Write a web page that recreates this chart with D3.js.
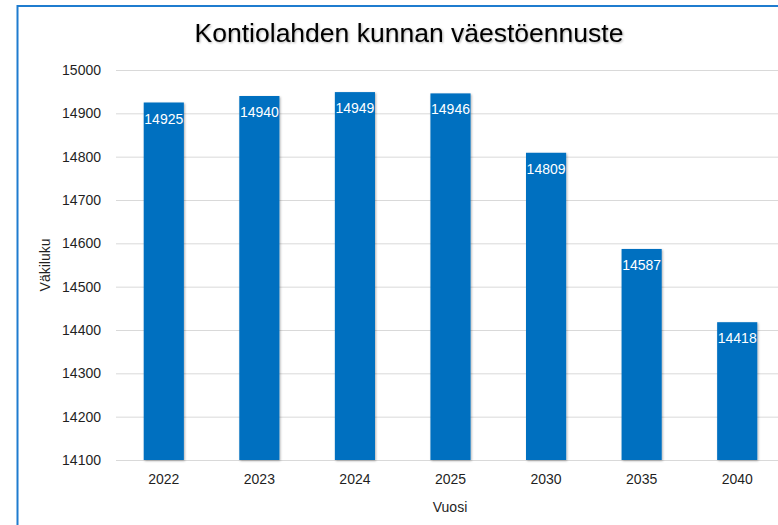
<!DOCTYPE html>
<html>
<head>
    <meta charset="utf-8">
    <style>
        body { margin: 0; background: white; }
        svg { display: block; font-family: 'Liberation Sans', Arial, sans-serif; }
        .grid line { stroke: #d9d9d9; stroke-width: 1px; }
        .tick text { fill: #1f1f1f; font-size: 14px; }
    </style>
</head>
<body>
    <svg width="778" height="525" id="chart"></svg>
    <script src="https://d3js.org/d3.v7.min.js"></script>
    <script>
        // data
        const years = ["2022", "2023", "2024", "2025", "2030", "2035", "2040"]
        const population = [14925, 14940, 14949, 14946, 14809, 14587, 14418]
        const yTicks = [14100, 14200, 14300, 14400, 14500, 14600, 14700, 14800, 14900, 15000]

        const svg = d3.select("#chart")

        // drop shadow for bars / title
        const defs = svg.append("defs")
        const f = defs.append("filter").attr("id", "shadow")
            .attr("x", "-20%").attr("y", "-20%").attr("width", "140%").attr("height", "140%")
        f.append("feDropShadow")
            .attr("dx", 1).attr("dy", 1).attr("stdDeviation", 1.2)
            .attr("flood-color", "#000").attr("flood-opacity", 0.3)

        const x = d3.scaleBand()
            .domain(years)
            .range([116, 785])
            .paddingInner(0.58)
            .paddingOuter(0.29)

        const y = d3.scaleLinear()
            .domain([14100, 15000])
            .range([460, 70])

        // frame border (blue)
        svg.append("path")
            .attr("d", "M17.5,525 L17.5,6 L778,6")
            .style("fill", "none")
            .style("stroke", "#1f7ccf")
            .style("stroke-width", 2)

        // gridlines
        svg.append("g")
            .attr("class", "grid")
            .attr("transform", "translate(116,0)")
            .call(d3.axisLeft(y).tickValues(yTicks).tickSize(-662).tickFormat(""))
            .call(g => g.selectAll(".domain").remove())

        // y axis labels
        svg.append("g")
            .attr("transform", "translate(101,0)")
            .call(d3.axisLeft(y).tickValues(yTicks).tickSize(0).tickPadding(0).tickFormat(d3.format("d")))
            .call(g => g.selectAll(".domain").remove())

        // x axis labels
        svg.append("g")
            .attr("transform", "translate(0,460)")
            .call(d3.axisBottom(x).tickSize(0).tickPadding(14))
            .call(g => g.selectAll(".domain").remove())

        // bars
        svg.append("g")
            .selectAll("rect")
            .data(years)
            .join("rect")
            .attr("x", d => x(d))
            .attr("y", (d, i) => y(population[i]))
            .attr("width", x.bandwidth())
            .attr("height", (d, i) => y(14100) - y(population[i]))
            .style("fill", "#0070c0")
            .attr("filter", "url(#shadow)")

        // value labels
        svg.append("g")
            .selectAll("text")
            .data(years)
            .join("text")
            .attr("x", d => x(d) + x.bandwidth() / 2)
            .attr("y", (d, i) => y(population[i]) + 21)
            .attr("text-anchor", "middle")
            .text((d, i) => population[i])
            .style("fill", "white")
            .style("font-size", "14px")

        // title
        svg.append("text")
            .attr("x", 409)
            .attr("y", 42)
            .attr("text-anchor", "middle")
            .text("Kontiolahden kunnan väestöennuste")
            .style("fill", "#000")
            .style("font-size", "26.5px")
            .attr("filter", "url(#shadow)")

        // axis titles
        svg.append("text")
            .attr("x", 450)
            .attr("y", 512)
            .attr("text-anchor", "middle")
            .text("Vuosi")
            .style("fill", "#1f1f1f")
            .style("font-size", "14px")

        svg.append("text")
            .attr("transform", "translate(50,265) rotate(-90)")
            .attr("text-anchor", "middle")
            .text("Väkiluku")
            .style("fill", "#1f1f1f")
            .style("font-size", "14px")
    </script>
</body>
</html>
